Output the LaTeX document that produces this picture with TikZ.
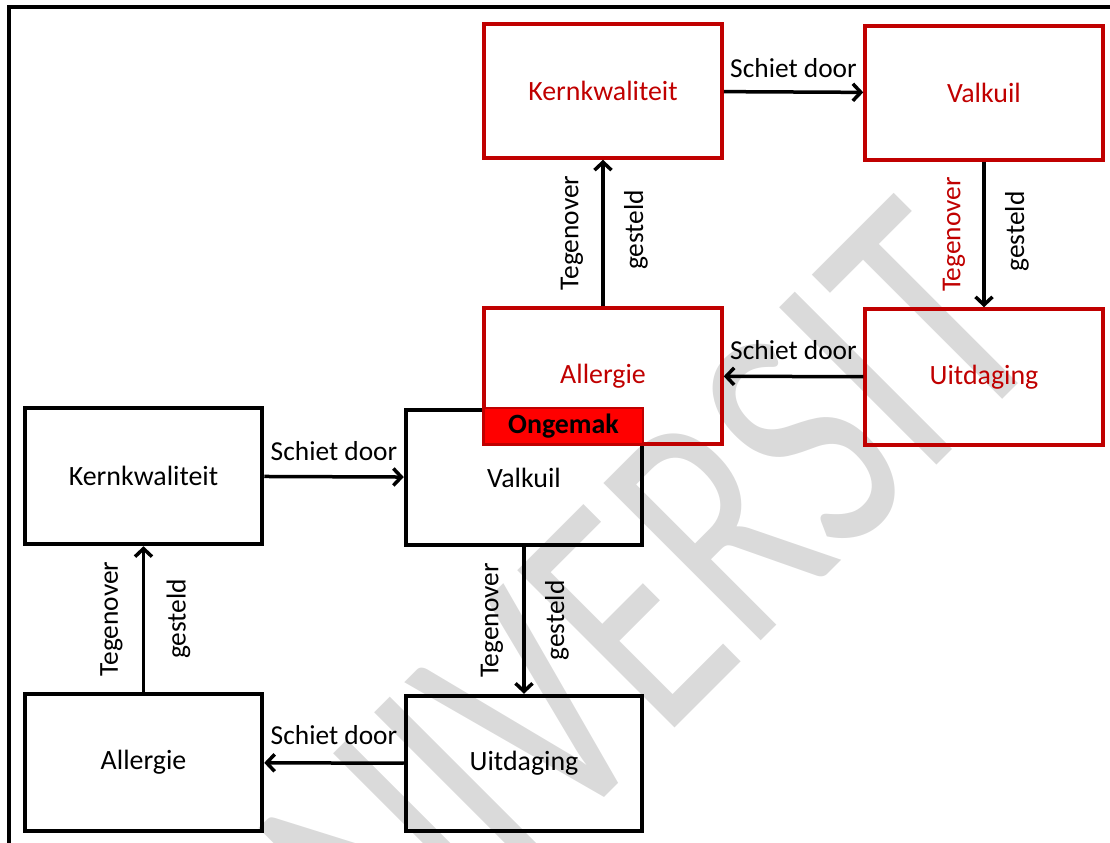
\documentclass[tikz,border=0pt]{standalone}
\usepackage{fontspec}
\setmainfont{Carlito}
\usetikzlibrary{arrows.meta}
\definecolor{dred}{RGB}{192,0,0}
\definecolor{wmgray}{RGB}{218,218,218}
\begin{document}
\begin{tikzpicture}[x=1bp,y=-1bp,
  box/.style={draw=black,line width=4.5bp,inner sep=0pt,font=\fontsize{28}{32}\selectfont},
  rbox/.style={draw=dred,line width=3.5bp,inner sep=0pt,text=dred,font=\fontsize{28}{32}\selectfont},
  conn/.style={line width=3.5bp,-{Straight Barb[length=8bp,width=17bp,line width=3.5bp]}},
  lbl/.style={font=\fontsize{27.5}{31}\selectfont,inner sep=0pt},
  wmark/.style={text=wmgray,font=\fontsize{348}{348}\selectfont,inner sep=0pt}]
\useasboundingbox (0,0) rectangle (1110,843);
\begin{scope}
  \clip (0,0) rectangle (1110,843);
  \node[wmark,rotate=45,xscale=0.72,anchor=base west] (wm) at (290,1112) {UNIVERSIT};
\end{scope}
\draw[line width=4.5bp] (9,850) -- (9,7) -- (1120,7);
% black boxes
\node[box,minimum width=237bp,minimum height=136bp] (bK) at (143.5,476) {Kernkwaliteit};
\node[box,minimum width=236bp,minimum height=135bp] (bV) at (524,477.5) {Valkuil};
\node[box,minimum width=237bp,minimum height=137bp] (bA) at (143.5,762.5) {Allergie};
\node[box,minimum width=236bp,minimum height=135bp] (bU) at (524,763.5) {Uitdaging};
% red boxes
\node[rbox,minimum width=238bp,minimum height=134bp] (rK) at (603,91) {Kernkwaliteit};
\node[rbox,minimum width=238bp,minimum height=134bp] (rV) at (984,93) {Valkuil};
\node[rbox,minimum width=238bp,minimum height=136bp] (rA) at (603,376) {Allergie};
\node[rbox,minimum width=238bp,minimum height=136bp] (rU) at (984,377) {Uitdaging};
\node[fill=red,draw=dred,line width=2bp,minimum width=159bp,minimum height=36bp,inner sep=0pt,
  font=\fontsize{28}{32}\selectfont\bfseries] (ong) at (563.5,426) {Ongemak};
% red cycle
\draw[conn] (rK) -- (rV) node[lbl,midway,yshift=24bp] (l1) {Schiet door};
\draw[conn] (rV) -- (rU)
  node[lbl,midway,xshift=-30bp,rotate=90,text=dred] (l2) {Tegenover}
  node[lbl,midway,xshift=33bp,yshift=3bp,rotate=90] (l3) {gesteld};
\draw[conn] (rU) -- (rA) node[lbl,midway,yshift=26bp] (l4) {Schiet door};
\draw[conn] (rA) -- (rK)
  node[lbl,midway,xshift=-31bp,rotate=90] (l5) {Tegenover}
  node[lbl,midway,xshift=33bp,yshift=3bp,rotate=90] (l6) {gesteld};
% black cycle
\draw[conn] (bK) -- (bV) node[lbl,midway,yshift=26bp] (l7) {Schiet door};
\draw[conn] (bV) -- (bU)
  node[lbl,midway,xshift=-32bp,rotate=90] (l8) {Tegenover}
  node[lbl,midway,xshift=33bp,rotate=90] (l9) {gesteld};
\draw[conn] (bU) -- (bA) node[lbl,midway,yshift=28bp] (l10) {Schiet door};
\draw[conn] (bA) -- (bK)
  node[lbl,midway,xshift=-32bp,rotate=90] (l11) {Tegenover}
  node[lbl,midway,xshift=35bp,rotate=90] (l12) {gesteld};
\end{tikzpicture}
\end{document}
